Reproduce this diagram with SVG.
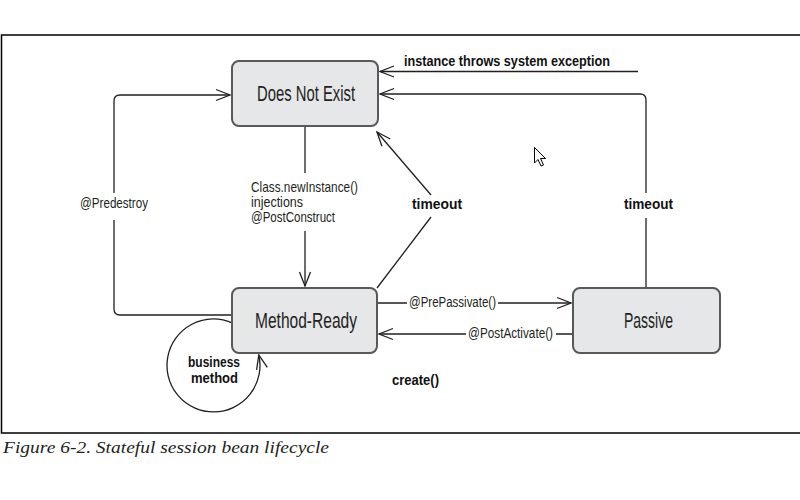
<svg xmlns="http://www.w3.org/2000/svg" width="800" height="500" viewBox="0 0 800 500">
<style>
.box{fill:#e6e7e8;stroke:#58595b;stroke-width:2}
.ln{fill:none;stroke:#231f20;stroke-width:1.3}
.nt{font-family:"Liberation Sans",Arial,sans-serif;font-size:21.5px;fill:#231f20;text-anchor:middle}
.lb{font-family:"Liberation Sans",Arial,sans-serif;font-size:15.5px;fill:#231f20}
.st{font-size:14.5px}
.bd{font-family:"Liberation Sans",Arial,sans-serif;font-size:15.5px;font-weight:bold;fill:#111}
.cap{font-family:"Liberation Serif","Times New Roman",serif;font-style:italic;font-size:17.5px;fill:#231f20}
</style>
<defs>
<marker id="ah" viewBox="-16 -8 18 16" markerWidth="18" markerHeight="16" refX="0" refY="0" orient="auto" markerUnits="userSpaceOnUse">
<path d="M-14,-5.5 L0,0 L-14,5.5" fill="none" stroke="#231f20" stroke-width="1.3"/>
</marker>
</defs>
<rect width="800" height="500" fill="#ffffff"/>
<g id="frame">
<path d="M800,35 H1.5 V433 H800" fill="none" stroke="#000" stroke-width="1.5"/>
</g>
<g id="connectors">
<path class="ln" d="M638,71.5 H380" marker-end="url(#ah)"/>
<path class="ln" d="M646,288 V218 M646,193 V100 Q646,94 640,94 H380" marker-end="url(#ah)"/>
<path class="ln" d="M232,315 H120 Q114,315 114,309 V220 M114,193 V101 Q114,95 120,95 H230" marker-end="url(#ah)"/>
<path class="ln" d="M305,126 V173 M305,231 V286" marker-end="url(#ah)"/>
<path class="ln" d="M377,288 L431,217 M431,195 L377,132" marker-end="url(#ah)"/>
<path class="ln" d="M377,303 H407 M498,303 H571" marker-end="url(#ah)"/>
<path class="ln" d="M573,334 H556 M466,334 H379" marker-end="url(#ah)"/>
<path class="ln" d="M232,322.8 A46.5,46.5 0 1 0 258.8,355" marker-end="url(#ah)"/>
<text class="bd" x="404" y="66" textLength="206" lengthAdjust="spacingAndGlyphs">instance throws system exception</text>
<text class="lb st" x="251" y="192" textLength="107" lengthAdjust="spacingAndGlyphs">Class.newInstance()</text>
<text class="lb st" x="251" y="207" textLength="52" lengthAdjust="spacingAndGlyphs">injections</text>
<text class="lb st" x="251" y="222" textLength="84" lengthAdjust="spacingAndGlyphs">@PostConstruct</text>
<text class="lb" x="80" y="208" textLength="68" lengthAdjust="spacingAndGlyphs">@Predestroy</text>
<text class="bd" x="412" y="209" textLength="50" lengthAdjust="spacingAndGlyphs">timeout</text>
<text class="bd" x="624" y="209" textLength="49" lengthAdjust="spacingAndGlyphs">timeout</text>
<text class="lb" x="409" y="307" textLength="87" lengthAdjust="spacingAndGlyphs">@PrePassivate()</text>
<text class="lb" x="468" y="338" textLength="85" lengthAdjust="spacingAndGlyphs">@PostActivate()</text>
<text class="bd" x="188" y="367" textLength="52" lengthAdjust="spacingAndGlyphs">business</text>
<text class="bd" x="191" y="383" textLength="47" lengthAdjust="spacingAndGlyphs">method</text>
<text class="bd" x="392" y="385" textLength="47" lengthAdjust="spacingAndGlyphs">create()</text>
</g>
<g id="does-not-exist">
<rect class="box" x="232" y="61" width="146" height="65" rx="7"/>
<text class="nt" x="306" y="101" textLength="98" lengthAdjust="spacingAndGlyphs">Does Not Exist</text>
</g>
<g id="method-ready">
<rect class="box" x="232" y="288" width="145" height="65" rx="7"/>
<text class="nt" x="306" y="328" textLength="102" lengthAdjust="spacingAndGlyphs">Method-Ready</text>
</g>
<g id="passive">
<rect class="box" x="573" y="288" width="147" height="65" rx="7"/>
<text class="nt" x="648.5" y="328" textLength="49" lengthAdjust="spacingAndGlyphs">Passive</text>
</g>
<g id="cursor">
<path d="M534.5,147.5 V163 L538,159.5 L541,166 L543.5,165 L540.5,158.5 L545.5,158.5 Z" fill="#fff" stroke="#000" stroke-width="1"/>
</g>
<text class="cap" x="3" y="453" textLength="326" lengthAdjust="spacingAndGlyphs">Figure 6-2. Stateful session bean lifecycle</text>
</svg>
